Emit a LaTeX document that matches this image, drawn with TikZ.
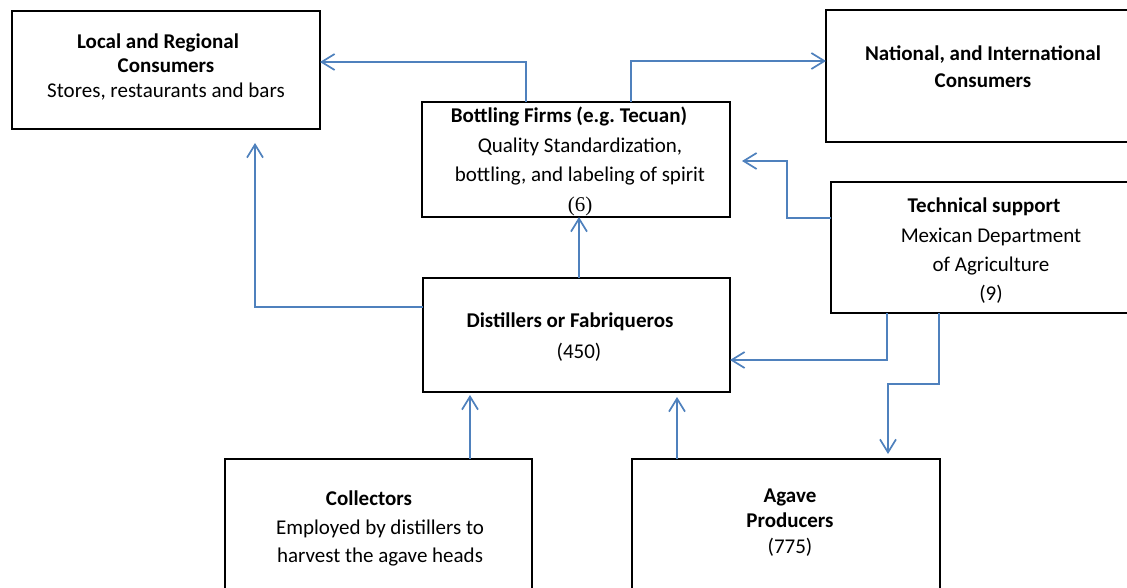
\documentclass[tikz,border=0pt]{standalone}
\usepackage{fontspec}
\setmainfont{Carlito}
\newfontfamily\timesfont{Liberation Serif}
\usetikzlibrary{arrows.meta}
\definecolor{linkblue}{RGB}{79,129,189}
\begin{document}
\begin{tikzpicture}[x=1pt,y=-1pt,
  box/.style={draw=black, line width=1.7pt, inner sep=0pt, outer sep=0pt, anchor=north west},
  txt/.style={align=center, inner sep=0pt, font=\fontsize{21}{#1}\selectfont},
  link/.style={draw=linkblue, line width=1.7pt, -{Straight Barb[length=13pt,width=16pt]}}]
\useasboundingbox (0,0) rectangle (1127,588);
\clip (0,0) rectangle (1127,588);
\fill[white] (0,0) rectangle (1127,588);
% boxes
\node[box, minimum width=308pt, minimum height=118pt] (local) at (12,11) {};
\node[box, minimum width=320pt, minimum height=132pt] (national) at (826,10) {};
\node[box, minimum width=308pt, minimum height=115pt] (bottling) at (422,102) {};
\node[box, minimum width=320pt, minimum height=131pt] (tech) at (831,182) {};
\node[box, minimum width=307pt, minimum height=114pt] (dist) at (423,278) {};
\node[box, minimum width=307pt, minimum height=150pt] (coll) at (225,459) {};
\node[box, minimum width=308pt, minimum height=150pt] (agave) at (632,459) {};
% texts
\node[txt=24.5pt] (localtxt) at (166,66.5) {\textbf{Local and Regional}\hspace*{16pt}\\\textbf{Consumers}\\Stores, restaurants and bars};
\node[txt=27pt] (nationaltxt) at (983,66.5) {\textbf{National, and International}\\\textbf{Consumers}};
\node[txt=29.7pt] (bottlingtxt) at (580,161.5) {\textbf{Bottling Firms (e.g.\ Tecuan)}\hspace*{22pt}\\Quality Standardization,\hspace*{14pt}\\bottling, and labeling of spirit\hspace*{14pt}\\{\timesfont (6)}};
\node[txt=29.3pt] (techtxt) at (991,251) {\textbf{Technical support}\hspace*{14pt}\\Mexican Department\hspace*{8pt}\\of Agriculture\hspace*{6pt}\\(9)};
\node[txt=31pt] (disttxt) at (579,337.5) {\textbf{Distillers or Fabriqueros}\hspace*{18pt}\\(450)};
\node[txt=28.5pt] (colltxt) at (380,528.5) {\textbf{Collectors}\hspace*{22pt}\\Employed by distillers to\hspace*{10pt}\\harvest the agave heads};
\node[txt=25.5pt] (agavetxt) at (790,522.5) {\textbf{Agave}\\\textbf{Producers}\\(775)};
% connectors
\draw[link] ([xshift=104pt]bottling.north west) |- ([yshift=8pt]local.east);
\draw[link] ([xshift=209pt]bottling.north west) |- ([yshift=15pt]national.west);
\draw[link] ([yshift=29.5pt]tech.west) -- ++(-44,0) |- ([xshift=12pt,yshift=-1.5pt]bottling.east);
\draw[link] ([yshift=28pt]dist.west) -| ([xshift=89pt,yshift=-14pt]local.south);
\coordinate (d1) at ([xshift=156pt]dist.north west);
\draw[link] (d1) -- (d1 |- bottling.south);
\draw[link] ([xshift=56pt]tech.south west) |- ([yshift=-25pt]dist.east);
\draw[link] ([xshift=108pt]tech.south west) -- ++(0,71) -| ([xshift=256pt,yshift=5pt]agave.north west);
\coordinate (c1) at ([xshift=245pt]coll.north west);
\draw[link, shorten >=3pt] (c1) -- (c1 |- dist.south);
\coordinate (a1) at ([xshift=45pt]agave.north west);
\draw[link, shorten >=5pt] (a1) -- (a1 |- dist.south);
\end{tikzpicture}
\end{document}
